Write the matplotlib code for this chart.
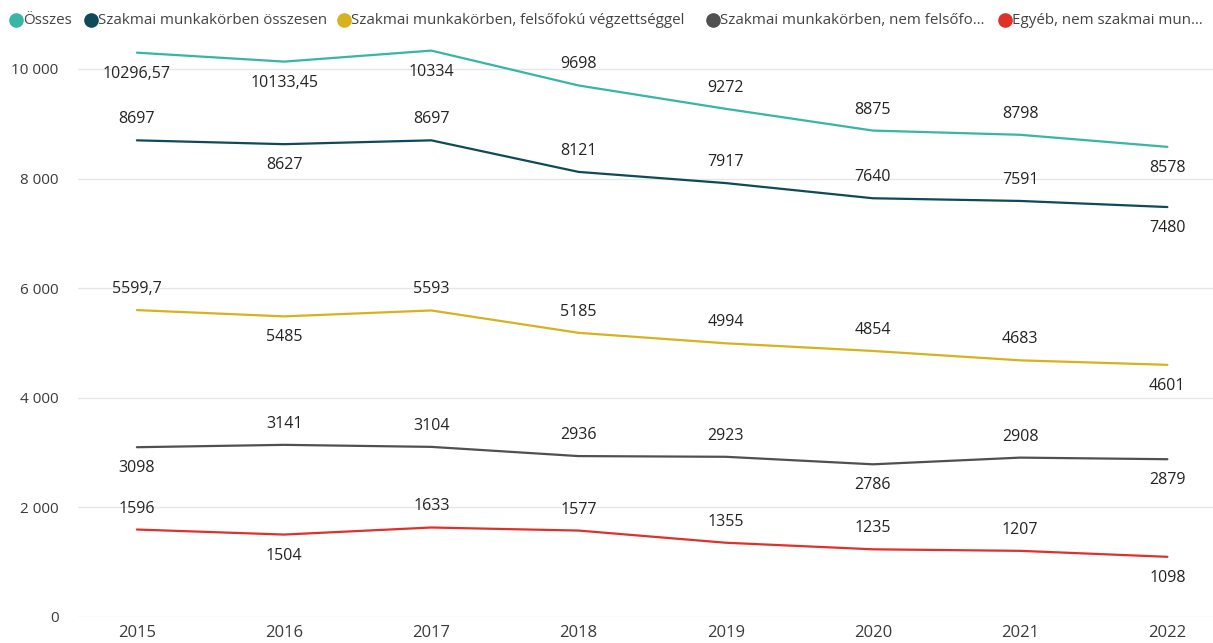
import matplotlib
matplotlib.use('Agg')
import matplotlib.pyplot as plt
from matplotlib.ticker import FuncFormatter

plt.rcParams['font.family'] = ['Open Sans', 'DejaVu Sans']

## Data
years = [2015, 2016, 2017, 2018, 2019, 2020, 2021, 2022]
osszes = [10296.57, 10133.45, 10334, 9698, 9272, 8875, 8798, 8578]
szakmai_ossz = [8697, 8627, 8697, 8121, 7917, 7640, 7591, 7480]
szakmai_felso = [5599.7, 5485, 5593, 5185, 4994, 4854, 4683, 4601]
szakmai_nemfelso = [3098, 3141, 3104, 2936, 2923, 2786, 2908, 2879]
egyeb = [1596, 1504, 1633, 1577, 1355, 1235, 1207, 1098]

series_names = ['Összes', 'Szakmai munkakörben összesen',
                'Szakmai munkakörben, felsőfokú végzettséggel',
                'Szakmai munkakörben, nem felsőfo…',
                'Egyéb, nem szakmai mun…']
series_vals = [osszes, szakmai_ossz, szakmai_felso, szakmai_nemfelso, egyeb]
colors = ['#37B5A5', '#0E4A57', '#D8B21E', '#505050', '#E0302A']
# label position per point: +1 above, -1 below
label_pos = [
    [-1, -1, -1, 1, 1, 1, 1, -1],
    [1, -1, 1, 1, 1, 1, 1, -1],
    [1, -1, 1, 1, 1, 1, 1, -1],
    [-1, 1, 1, 1, 1, -1, 1, -1],
    [1, -1, 1, 1, 1, 1, 1, -1],
]
# legend marker x positions (pixels), from the reference layout
legend_x = [16, 91, 344, 713, 1005]

W, H = 1213, 643


def fmt_val(v):
    if float(v).is_integer():
        return str(int(v))
    return str(v).replace('.', ',')


fig = plt.figure(figsize=(W / 100, H / 100), dpi=100)
ax = fig.add_axes([78 / W, 26 / H, 1 - 78 / W, 0.895])

for vals, col, pos in zip(series_vals, colors, label_pos):
    ax.plot(years, vals, color=col, lw=1.6, solid_capstyle='round', zorder=3)
    for x, v, p in zip(years, vals, pos):
        ax.annotate(fmt_val(v), (x, v), xytext=(0, 21 * p), textcoords='offset pixels',
                    ha='center', va='center', fontsize=11.5, color='#252423', zorder=4)

ax.set_xlim(2014.6, 2022.31)
ax.set_ylim(0, 10500)
ax.set_yticks([0, 2000, 4000, 6000, 8000, 10000])
ax.yaxis.set_major_formatter(FuncFormatter(lambda v, p: '{:,.0f}'.format(v).replace(',', ' ')))
ax.set_xticks(years)
ax.grid(axis='y', color='#E6E6E6', lw=1)
ax.set_axisbelow(True)
for s in ax.spines.values():
    s.set_visible(False)
ax.tick_params(axis='both', length=0, labelsize=11, colors='#3b3b3b')
ax.tick_params(axis='y', pad=14)
ax.tick_params(axis='x', pad=6, labelsize=12)

## Legend, placed by hand
ly = 1 - 20 / H
for name, col, lx in zip(series_names, colors, legend_x):
    fig.lines.append(plt.Line2D([lx / W], [ly], ls='none', marker='o', ms=9.5,
                                color=col, transform=fig.transFigure))
    fig.text((lx + 7) / W, ly, name, ha='left', va='center', fontsize=10.9,
             color='#444444')

fig.savefig('out.png', dpi=100)
